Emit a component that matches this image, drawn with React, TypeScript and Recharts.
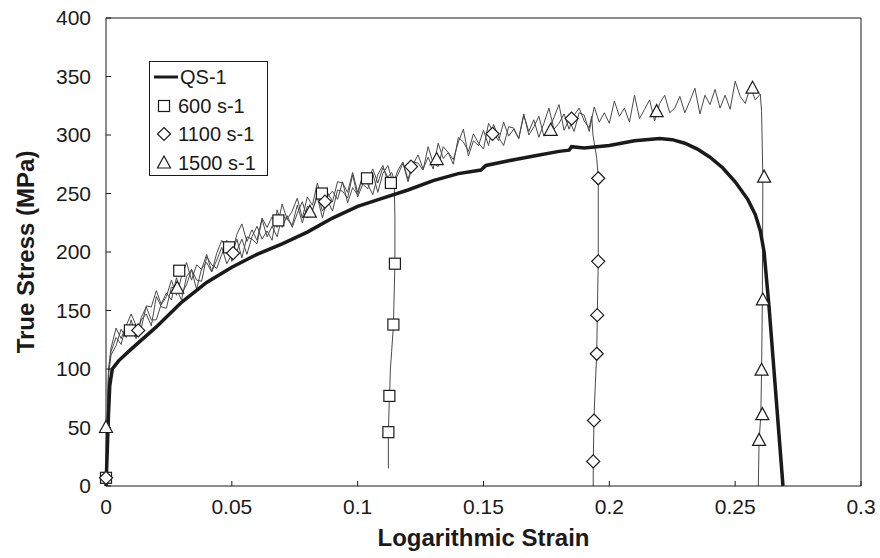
import React from "react";
import { ComposedChart, Line, Scatter, XAxis, YAxis, ReferenceLine } from "recharts";

// strain / true stress pairs
const qs1: [number, number][] = [
  [0, 0], [0.0005, 30], [0.001, 62], [0.0015, 86], [0.0025, 100], [0.005, 107], [0.01, 117],
  [0.02, 136], [0.03, 157], [0.04, 174], [0.05, 187], [0.06, 198], [0.07, 207], [0.08, 217],
  [0.09, 229], [0.1, 239], [0.11, 246], [0.12, 253], [0.13, 261], [0.14, 267], [0.149, 270],
  [0.151, 274], [0.16, 278], [0.17, 282], [0.18, 286], [0.184, 287], [0.185, 290], [0.19, 289],
  [0.2, 291], [0.21, 295], [0.22, 297], [0.225, 296], [0.23, 293], [0.235, 288], [0.24, 281],
  [0.245, 272], [0.25, 260], [0.255, 245], [0.258, 232], [0.26, 218], [0.2615, 200], [0.2625, 176],
  [0.2635, 152], [0.269, 0],
];

const s600: [number, number][] = [
  [0, 0], [0.0004, 45], [0.001, 100], [0.002, 118], [0.004, 135], [0.006, 126], [0.008, 137],
  [0.01, 147], [0.012, 137], [0.014, 135], [0.016, 154], [0.018, 153], [0.02, 167], [0.022, 155],
  [0.024, 162], [0.026, 176], [0.028, 163], [0.03, 179], [0.032, 191], [0.034, 176], [0.036, 189],
  [0.038, 185], [0.04, 198], [0.042, 183], [0.044, 199], [0.046, 210], [0.048, 202], [0.05, 198],
  [0.052, 215], [0.054, 224], [0.056, 209], [0.058, 219], [0.06, 210], [0.062, 229], [0.064, 221],
  [0.066, 230], [0.068, 221], [0.07, 241], [0.072, 228], [0.074, 235], [0.076, 246], [0.078, 229],
  [0.08, 247], [0.082, 240], [0.084, 259], [0.086, 241], [0.088, 251], [0.09, 243], [0.092, 260],
  [0.094, 259], [0.096, 251], [0.098, 268], [0.1, 251], [0.102, 265], [0.104, 261], [0.106, 271],
  [0.108, 259], [0.11, 272], [0.112, 264], [0.1135, 268], [0.1145, 262],
  [0.1148, 230], [0.1148, 190], [0.1142, 137], [0.1135, 115], [0.113, 100], [0.1128, 85],
  [0.1126, 77], [0.1122, 45], [0.1122, 15],
];

const s1100: [number, number][] = [
  [0, 0], [0.0004, 40], [0.001, 95], [0.002, 112], [0.004, 120], [0.006, 134], [0.008, 127],
  [0.01, 142], [0.012, 127], [0.014, 142], [0.016, 147], [0.018, 137], [0.02, 162], [0.022, 153],
  [0.024, 152], [0.026, 170], [0.028, 168], [0.03, 159], [0.032, 179], [0.034, 185], [0.036, 176],
  [0.038, 175], [0.04, 196], [0.042, 189], [0.044, 186], [0.046, 198], [0.048, 210], [0.05, 192],
  [0.052, 201], [0.054, 211], [0.056, 198], [0.058, 213], [0.06, 222], [0.062, 211], [0.064, 218],
  [0.066, 210], [0.068, 236], [0.07, 221], [0.072, 231], [0.074, 221], [0.076, 233], [0.078, 243],
  [0.08, 229], [0.082, 236], [0.084, 247], [0.086, 229], [0.088, 247], [0.09, 252], [0.092, 245],
  [0.094, 260], [0.096, 242], [0.098, 255], [0.1, 249], [0.102, 265], [0.104, 258], [0.106, 249],
  [0.108, 266], [0.11, 274], [0.112, 260], [0.114, 258], [0.116, 270], [0.118, 277], [0.12, 262],
  [0.122, 277], [0.124, 276], [0.126, 270], [0.128, 290], [0.13, 276], [0.132, 273], [0.134, 290],
  [0.136, 285], [0.138, 275], [0.14, 298], [0.142, 294], [0.144, 286], [0.146, 301], [0.148, 293],
  [0.15, 288], [0.152, 310], [0.154, 302], [0.156, 295], [0.158, 311], [0.16, 299], [0.162, 305],
  [0.164, 297], [0.166, 317], [0.168, 303], [0.17, 313], [0.172, 298], [0.174, 310], [0.176, 323],
  [0.178, 305], [0.18, 310], [0.182, 318], [0.184, 305], [0.186, 317], [0.188, 323], [0.19, 312],
  [0.192, 306], [0.193, 316],
  [0.1935, 300], [0.195, 280], [0.1956, 263], [0.1956, 192], [0.1952, 146], [0.195, 113],
  [0.1946, 95], [0.1941, 70], [0.1939, 55], [0.1936, 20], [0.1936, 0],
];

const s1500: [number, number][] = [
  [0, 0], [0.0004, 50], [0.001, 98], [0.002, 115], [0.004, 127], [0.006, 121], [0.008, 137],
  [0.01, 133], [0.012, 126], [0.014, 144], [0.016, 153], [0.018, 142], [0.02, 142], [0.022, 156],
  [0.024, 165], [0.026, 159], [0.028, 178], [0.03, 164], [0.032, 172], [0.034, 185], [0.036, 168],
  [0.038, 186], [0.04, 191], [0.042, 183], [0.044, 193], [0.046, 204], [0.048, 190], [0.05, 198],
  [0.052, 211], [0.054, 195], [0.056, 213], [0.058, 211], [0.06, 207], [0.062, 228], [0.064, 213],
  [0.066, 222], [0.068, 213], [0.07, 231], [0.072, 228], [0.074, 223], [0.076, 240], [0.078, 225],
  [0.08, 239], [0.082, 235], [0.084, 250], [0.086, 235], [0.088, 244], [0.09, 235], [0.092, 253],
  [0.094, 252], [0.096, 246], [0.098, 266], [0.1, 247], [0.102, 258], [0.104, 254], [0.106, 267],
  [0.108, 251], [0.11, 267], [0.112, 274], [0.114, 259], [0.116, 266], [0.118, 276], [0.12, 260],
  [0.122, 275], [0.124, 283], [0.126, 271], [0.128, 281], [0.13, 271], [0.132, 293], [0.134, 280],
  [0.136, 285], [0.138, 279], [0.14, 294], [0.142, 305], [0.144, 282], [0.146, 295], [0.148, 291],
  [0.15, 304], [0.152, 291], [0.154, 309], [0.156, 298], [0.158, 291], [0.16, 307], [0.162, 306],
  [0.164, 297], [0.166, 318], [0.168, 300], [0.17, 307], [0.172, 316], [0.174, 299], [0.176, 305],
  [0.178, 315], [0.18, 326], [0.182, 304], [0.184, 313], [0.186, 303], [0.188, 319], [0.19, 317],
  [0.192, 303], [0.194, 324], [0.196, 311], [0.198, 319], [0.2, 310], [0.202, 329], [0.204, 316],
  [0.206, 323], [0.208, 311], [0.21, 334], [0.212, 314], [0.214, 322], [0.216, 330], [0.218, 312],
  [0.22, 327], [0.222, 334], [0.224, 319], [0.226, 323], [0.228, 333], [0.23, 319], [0.232, 329],
  [0.234, 340], [0.236, 318], [0.238, 334], [0.24, 326], [0.242, 339], [0.244, 323], [0.246, 334],
  [0.248, 322], [0.25, 346], [0.252, 333], [0.254, 327], [0.256, 341], [0.258, 330], [0.26, 335],
  [0.2605, 320], [0.261, 264], [0.2608, 159], [0.2605, 99], [0.2602, 61], [0.2595, 38], [0.2592, 0],
];

// marker positions
const squares600: [number, number][] = [
  [0, 7], [0.0095, 133], [0.0291, 184], [0.0489, 204], [0.0685, 227], [0.0858, 250], [0.1037, 263],
  [0.1132, 259], [0.1148, 190], [0.1142, 138], [0.1126, 77], [0.1122, 46],
];
const diamonds1100: [number, number][] = [
  [0, 7], [0.0128, 133], [0.0505, 199], [0.087, 243], [0.1212, 273], [0.1536, 301], [0.185, 314],
  [0.1956, 263], [0.1956, 192], [0.1952, 146], [0.195, 113], [0.1939, 56], [0.1936, 21],
];
const triangles1500: [number, number][] = [
  [0, 50], [0.0283, 169], [0.081, 234], [0.1314, 279], [0.1767, 304], [0.2188, 320], [0.2569, 340],
  [0.2615, 264], [0.261, 159], [0.2605, 99], [0.2608, 61], [0.2595, 39],
];

const xTicks = [0, 0.05, 0.1, 0.15, 0.2, 0.25, 0.3];
const yTicks = [0, 50, 100, 150, 200, 250, 300, 350, 400];

const legendItems = ["QS-1", "600 s-1", "1100 s-1", "1500 s-1"];

const FONT = "'Liberation Sans', Arial, sans-serif";
const INK = "#1a1a1a";
const NOISE = "#4a4a4a";

const toRows = (pts: [number, number][]) => pts.map(([x, y]) => ({ x, y }));

const Square = (p: any) => (
  <rect x={p.cx - 5.5} y={p.cy - 5.5} width={11} height={11} fill="#fff" stroke={INK} strokeWidth={1.2} />
);
const Diamond = (p: any) => (
  <polygon
    points={`${p.cx},${p.cy - 6.5} ${p.cx + 6.5},${p.cy} ${p.cx},${p.cy + 6.5} ${p.cx - 6.5},${p.cy}`}
    fill="#fff"
    stroke={INK}
    strokeWidth={1.2}
  />
);
const Triangle = (p: any) => (
  <polygon
    points={`${p.cx},${p.cy - 7} ${p.cx + 6.5},${p.cy + 5} ${p.cx - 6.5},${p.cy + 5}`}
    fill="#fff"
    stroke={INK}
    strokeWidth={1.2}
  />
);

function LegendBox() {
  const symbol = (i: number) => {
    if (i === 0) return <line x1={2} y1={10} x2={26} y2={10} stroke={INK} strokeWidth={3} />;
    if (i === 1) return <Square cx={12} cy={10} />;
    if (i === 2) return <Diamond cx={12} cy={10} />;
    return <Triangle cx={12} cy={10} />;
  };
  return (
    <div
      style={{
        position: "absolute",
        left: 149,
        top: 61,
        width: 119,
        height: 115,
        border: `1px solid ${INK}`,
        background: "#fff",
        fontFamily: FONT,
        fontSize: 20,
        color: INK,
        boxSizing: "border-box",
      }}
    >
      {legendItems.map((name, i) => (
        <div
          key={name}
          style={{ position: "absolute", left: 2, top: 5 + i * 28.7, height: 20, display: "flex", alignItems: "center" }}
        >
          <svg width={28} height={20} style={{ marginRight: i === 0 ? 0 : -2 }}>
            {symbol(i)}
          </svg>
          <span style={{ lineHeight: "20px", whiteSpace: "nowrap" }}>{name}</span>
        </div>
      ))}
    </div>
  );
}

export default function App() {
  const tickStyle = { fontSize: 21, fill: INK, fontFamily: FONT };
  const titleStyle = { fontSize: 24, fontWeight: "bold", fill: INK, fontFamily: FONT };
  return (
    <div style={{ position: "relative", width: 880, height: 558, background: "#fff" }}>
      <style>{"body{margin:0}"}</style>
      <ComposedChart width={880} height={558} margin={{ top: 18, right: 19, left: 0, bottom: 0 }}>
        <XAxis
          dataKey="x"
          type="number"
          domain={[0, 0.3]}
          ticks={xTicks}
          height={72}
          tick={tickStyle}
          tickSize={-5}
          tickMargin={18}
          stroke={INK}
          label={{ value: "Logarithmic Strain", position: "insideBottom", offset: 12, style: titleStyle }}
        />
        <YAxis
          type="number"
          domain={[0, 400]}
          ticks={yTicks}
          width={106}
          tick={tickStyle}
          tickSize={-5}
          tickMargin={20}
          stroke={INK}
          label={{
            value: "True Stress (MPa)",
            angle: -90,
            position: "insideLeft",
            offset: 25,
            style: { ...titleStyle, textAnchor: "middle" },
          }}
        />
        <ReferenceLine y={400} stroke={INK} />
        <ReferenceLine x={0.3} stroke={INK} />
        <Line data={toRows(s600)} dataKey="y" stroke={NOISE} strokeWidth={1} dot={false} isAnimationActive={false} />
        <Line data={toRows(s1100)} dataKey="y" stroke={NOISE} strokeWidth={1} dot={false} isAnimationActive={false} />
        <Line data={toRows(s1500)} dataKey="y" stroke={NOISE} strokeWidth={1} dot={false} isAnimationActive={false} />
        <Line data={toRows(qs1)} dataKey="y" stroke={INK} strokeWidth={3.5} dot={false} isAnimationActive={false} />
        <Scatter data={toRows(squares600)} dataKey="y" shape={Square} isAnimationActive={false} />
        <Scatter data={toRows(diamonds1100)} dataKey="y" shape={Diamond} isAnimationActive={false} />
        <Scatter data={toRows(triangles1500)} dataKey="y" shape={Triangle} isAnimationActive={false} />
      </ComposedChart>
      <LegendBox />
    </div>
  );
}
